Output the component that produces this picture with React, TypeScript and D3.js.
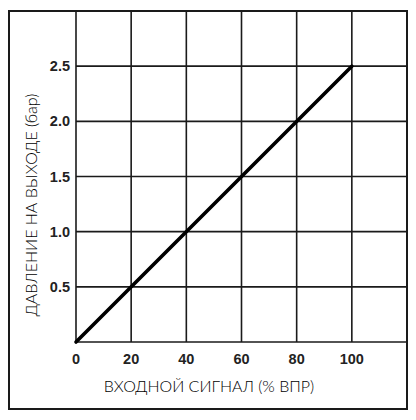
import * as React from 'react';
import * as d3 from 'd3';

// chart values
const xTicks = [0, 20, 40, 60, 80, 100];
const yTicks = [0.5, 1.0, 1.5, 2.0, 2.5];
const xGrid = [20, 40, 60, 80, 100];
const yGrid = [0.5, 1.0, 1.5, 2.0, 2.5];
const signal = [0, 100];
const pressure = [0, 2.5];
const xTitle = 'ВХОДНОЙ СИГНАЛ (% ВПР)';
const yTitle = 'ДАВЛЕНИЕ НА ВЫХОДЕ (бар)';

const W = 416;
const H = 420;
const frame = { left: 9, top: 11, right: 407, bottom: 409 };
const plot = { left: 76, top: 11, right: 407, bottom: 342 };

export default function App() {
  const x = d3.scaleLinear().domain([0, 120]).range([plot.left, plot.right]);
  const y = d3.scaleLinear().domain([0, 3]).range([plot.bottom, plot.top]);

  const line = d3.line<number>()
    .x((_, i) => x(signal[i]))
    .y((d) => y(d));

  return (
    <svg
      width={W}
      height={H}
      style={{ position: 'absolute', left: 0, top: 0, background: '#fff' }}
    >
      <rect x={0} y={0} width={W} height={H} fill="#fff" />
      <g stroke="#1a1a1a" strokeWidth={1.6}>
        {xGrid.map((v) => (
          <line key={'gx' + v} x1={x(v)} x2={x(v)} y1={plot.top} y2={plot.bottom} />
        ))}
        {yGrid.map((v) => (
          <line key={'gy' + v} x1={plot.left} x2={plot.right} y1={y(v)} y2={y(v)} />
        ))}
        <line x1={plot.left} x2={plot.left} y1={plot.top} y2={plot.bottom} />
        <line x1={plot.left} x2={plot.right} y1={plot.bottom} y2={plot.bottom} />
      </g>
      <rect
        x={frame.left}
        y={frame.top}
        width={frame.right - frame.left}
        height={frame.bottom - frame.top}
        fill="none"
        stroke="#1a1a1a"
        strokeWidth={2}
      />
      <path
        d={line(pressure) ?? ''}
        fill="none"
        stroke="#000"
        strokeWidth={3.6}
        strokeLinecap="round"
      />
      <g
        fontFamily="'Liberation Sans', Arial, sans-serif"
        fontWeight="bold"
        fontSize={14.5}
        fill="#222"
      >
        {yTicks.map((v) => (
          <text key={'ty' + v} x={plot.left - 6} y={y(v)} textAnchor="end" dy="0.35em">
            {d3.format('.1f')(v)}
          </text>
        ))}
        {xTicks.map((v) => (
          <text key={'tx' + v} x={x(v)} y={359} textAnchor="middle" dy="0.35em">
            {v}
          </text>
        ))}
      </g>
      <g fontFamily="Lato, 'Open Sans', sans-serif" fontWeight={300} fontSize={16} fill="#000">
        <text x={209} y={386} textAnchor="middle" dy="0.35em">
          {xTitle}
        </text>
        <text
          transform={`translate(31, 205) rotate(-90)`}
          textAnchor="middle"
          dy="0.35em"
        >
          {yTitle}
        </text>
      </g>
    </svg>
  );
}
